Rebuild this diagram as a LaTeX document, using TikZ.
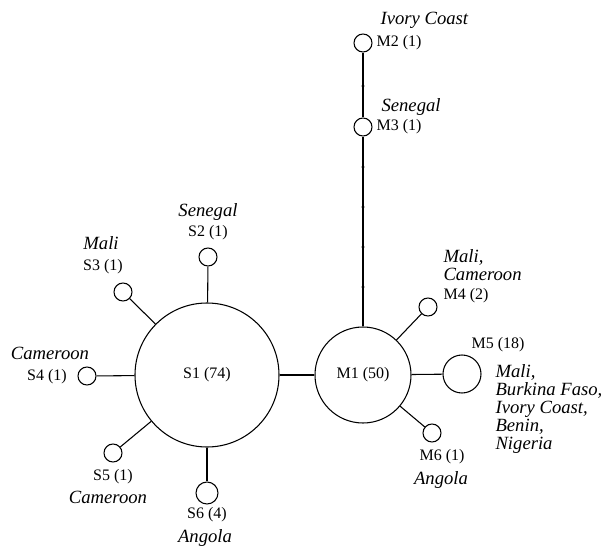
\documentclass[tikz,border=0pt]{standalone}
\usepackage{fontspec}
\setmainfont{Liberation Serif}
\begin{document}
\begin{tikzpicture}[x=0.75pt,y=-0.75pt,line width=0.8pt,
    lab/.style={inner sep=0pt,font=\fontsize{12}{13.5}\selectfont},
    ctry/.style={lab,font=\fontsize{14}{13.5}\selectfont\itshape},
    hap/.style={lab,draw,circle,minimum size=13.5pt}]
    \useasboundingbox (0,0) rectangle (604,546);
    \node[hap,minimum size=108pt] (s1) at (207,375) {S1 (74)};
    \node[hap,minimum size=72pt] (m1) at (363,375) {M1 (50)};
    \node[hap] (s2) at (208,257) {};
    \node[hap] (s3) at (123,292) {};
    \node[hap] (s4) at (87,376) {};
    \node[hap] (s5) at (113,453) {};
    \node[hap,minimum size=16.5pt] (s6) at (207,493) {};
    \node[hap] (m2) at (363,43) {};
    \node[hap] (m3) at (363,127) {};
    \node[hap] (m4) at (428,307) {};
    \node[hap,minimum size=28.5pt] (m5) at (462,374) {};
    \node[hap] (m6) at (432,433) {};
    \draw (s1) -- (m1);
    \foreach \n in {s2,s3,s4,s5,s6}
        \draw (s1) -- (\n);
    \foreach \n in {m3,m4,m5,m6}
        \draw (m1) -- (\n);
    \draw (m3) -- (m2);
    \foreach \y in {86,167,207,247,287}
        \fill (363,\y) circle (1.2pt);
    \node[ctry] (s2c) at (208,212) {Senegal};
    \node[lab] (s2l) at (208,233) {S2 (1)};
    \node[ctry] (s3c) at (101,243) {Mali};
    \node[lab] (s3l) at (103,267) {S3 (1)};
    \node[ctry] (s4c) at (50,353) {Cameroon};
    \node[lab] (s4l) at (47,377) {S4 (1)};
    \node[lab] (s5l) at (113,477) {S5 (1)};
    \node[ctry] (s5c) at (108,497) {Cameroon};
    \node[lab] (s6l) at (207,515) {S6 (4)};
    \node[ctry] (s6c) at (205,538) {Angola};
    \node[ctry,anchor=west] (m2c) at (380,20) {Ivory Coast};
    \node[lab,anchor=west] (m2l) at (376,43) {M2 (1)};
    \node[ctry,anchor=west] (m3c) at (381,107) {Senegal};
    \node[lab,anchor=west] (m3l) at (376,127) {M3 (1)};
    \node[ctry,anchor=west,align=left] (m4c) at (443,265) {Mali,\\Cameroon};
    \node[lab,anchor=west] (m4l) at (443,296) {M4 (2)};
    \node[lab] (m5l) at (498,345) {M5 (18)};
    \node[ctry,anchor=west,align=left] (m5c) at (495,409)
        {Mali,\\Burkina Faso,\\Ivory Coast,\\Benin,\\Nigeria};
    \node[lab] (m6l) at (442,457) {M6 (1)};
    \node[ctry] (m6c) at (441,480) {Angola};
\end{tikzpicture}
\end{document}
